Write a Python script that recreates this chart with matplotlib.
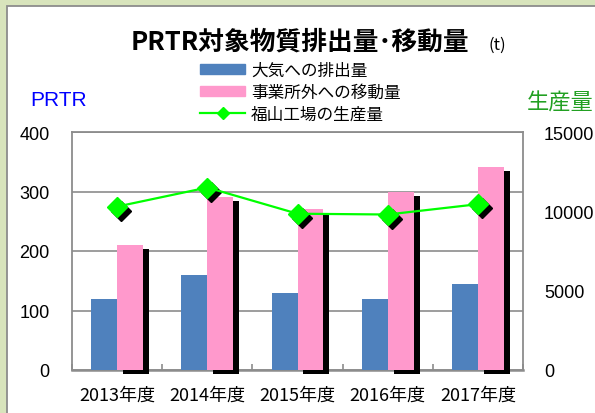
import numpy as np
import matplotlib
matplotlib.use('Agg')
import matplotlib.pyplot as plt
import matplotlib.patheffects as pe
from matplotlib.patches import Rectangle
from matplotlib.transforms import offset_copy
from matplotlib.lines import Line2D
from matplotlib.patches import Patch

plt.rcParams['font.family'] = ['Noto Sans CJK JP', 'DejaVu Sans']

years = ['2013年度', '2014年度', '2015年度', '2016年度', '2017年度']
air = [120, 160, 130, 120, 145]          # 大気への排出量 (t)
transfer = [210, 290, 270, 300, 342]     # 事業所外への移動量 (t)
production = [10300, 11500, 9850, 9800, 10450]  # 福山工場の生産量

blue = '#4f81bd'
pink = '#ff99cc'
green = '#00ff00'
grid_c = '#8c8c8c'

fig = plt.figure(figsize=(5.95, 4.14), dpi=100, facecolor='#d8e4bc')
fig.patches.append(Rectangle((7 / 595, -0.1), 1.2, (414 - 7) / 414 + 0.1,
                             transform=fig.transFigure, facecolor='white',
                             edgecolor='#8c8c8c', lw=1.3, zorder=-5))

ax = fig.add_axes([72 / 595, 43 / 414, 451 / 595, 238 / 414])
ax.set_facecolor('none')
x = np.arange(len(years))
w = 0.288

ax.bar(x - w / 2, air, w, color=blue, zorder=3, clip_on=False)
ax.bar(x + w / 2, transfer, w, color=pink, zorder=3, clip_on=False,
       path_effects=[pe.SimplePatchShadow(offset=(4.3, -2.9), shadow_rgbFace='black', alpha=1.0),
                     pe.Normal()])

ax.set_xlim(-0.5, len(years) - 0.5)
ax.set_ylim(0, 400)
ax.set_yticks([0, 100, 200, 300, 400])
ax.yaxis.grid(True, color=grid_c, lw=1.2)
ax.set_axisbelow(True)
ax.set_xticks(x)
ax.set_xticklabels(years, fontsize=13)
ax.set_xticks(np.arange(len(years) + 1) - 0.5, minor=True)
ax.tick_params(axis='x', which='major', length=0, pad=11)
ax.tick_params(axis='x', which='minor', direction='in', length=4, color=grid_c, width=1.2)
ax.tick_params(axis='y', length=0, pad=16)
for lab in ax.get_yticklabels():
    lab.set_fontfamily('Liberation Sans')
    lab.set_fontsize(13)
for s in ax.spines.values():
    s.set_color(grid_c)
    s.set_linewidth(1.3)
ax.spines['bottom'].set_linewidth(1.8)

ax2 = ax.twinx()
ax2.set_ylim(0, 15000)
ax2.set_yticks([0, 5000, 10000, 15000])
ax2.tick_params(axis='y', length=0, pad=15)
for lab in ax2.get_yticklabels():
    lab.set_fontfamily('Liberation Sans')
    lab.set_fontsize(13)
for s in ax2.spines.values():
    s.set_visible(False)
shadow_tr = offset_copy(ax2.transData, fig=fig, x=4, y=-4, units='dots')
ax2.plot(x, production, 'D', color='black', ms=10, transform=shadow_tr, clip_on=False, zorder=2)
ax2.plot(x, production, '-', color=green, lw=1.6, zorder=3)
ax2.plot(x, production, 'D', color=green, ms=10, lw=0, zorder=4, clip_on=False)

fig.text(300 / 595, 1 - 42 / 414, 'PRTR対象物質排出量･移動量', ha='center', va='center',
         fontsize=18.5, fontweight='bold')
fig.text(488 / 595, 1 - 45 / 414, '(t)', ha='left', va='center', fontsize=12)
fig.text(30 / 595, 1 - 101 / 414, 'PRTR', ha='left', va='center', fontsize=15,
         color='#0000ff', family='Liberation Sans')
fig.text(527 / 595, 1 - 103 / 414, '生産量', ha='left', va='center', fontsize=16,
         color='#22a022')

handles = [Patch(color=blue), Patch(color=pink),
           Line2D([], [], color=green, lw=1.6, marker='D', ms=6)]
labels = ['大気への排出量', '事業所外への移動量', '福山工場の生産量']
fig.legend(handles, labels, loc='upper left', bbox_to_anchor=(200 / 595, 1 - 63 / 414),
           frameon=False, fontsize=12, handlelength=2.7, handleheight=0.6,
           handletextpad=0.35, labelspacing=0.3, borderpad=0, borderaxespad=0)

fig.savefig('out.png', dpi=100, facecolor=fig.get_facecolor())
